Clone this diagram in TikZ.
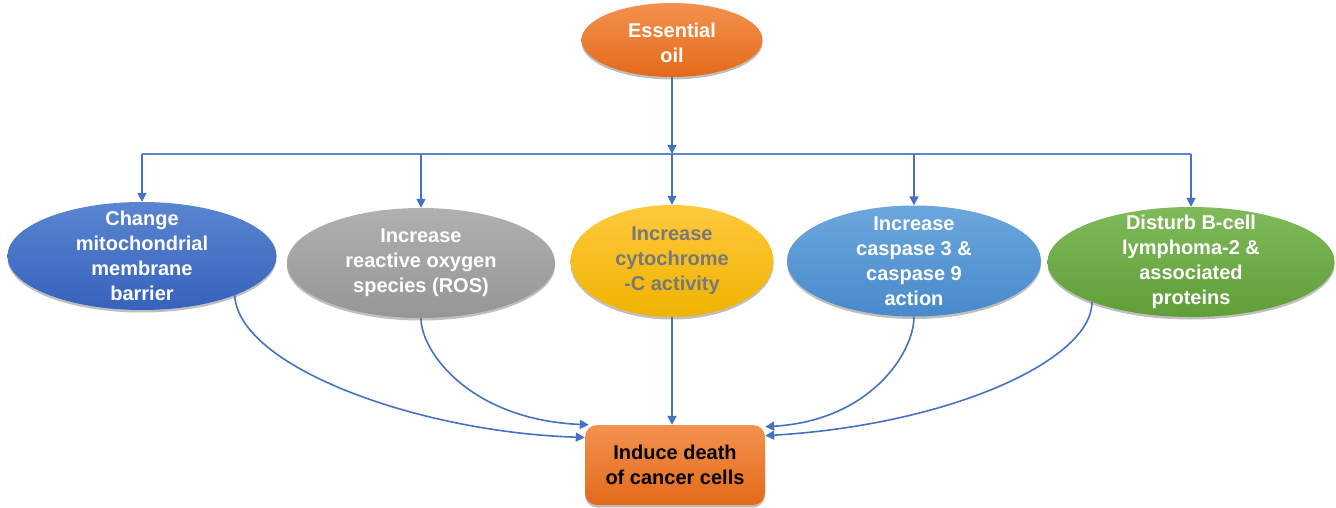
\documentclass[tikz,border=0pt]{standalone}
\usepackage{fontspec}
\setmainfont{Liberation Sans}
\usetikzlibrary{shapes.geometric,arrows.meta,shadows}

% fills: light top / darker bottom
\definecolor{oilTop}{HTML}{F3914F}
\definecolor{oilBot}{HTML}{E46A19}
\definecolor{blueTop}{HTML}{5A85D0}
\definecolor{blueBot}{HTML}{3762BD}
\definecolor{grayTop}{HTML}{B0B0B0}
\definecolor{grayBot}{HTML}{969696}
\definecolor{goldTop}{HTML}{FFC93D}
\definecolor{goldBot}{HTML}{EFB300}
\definecolor{skyTop}{HTML}{6BA7DD}
\definecolor{skyBot}{HTML}{488ACB}
\definecolor{leafTop}{HTML}{80BA5B}
\definecolor{leafBot}{HTML}{5F9E38}
\definecolor{linkblue}{HTML}{4472C4}
\definecolor{goldtext}{HTML}{787878}

\begin{document}
\begin{tikzpicture}[x=1pt,y=-1pt,
  bubble/.style={ellipse, inner sep=0pt, draw=none,
    drop shadow={shadow xshift=0pt, shadow yshift=-2.5pt, opacity=0.25, fill=black}},
  label text/.style={align=center, inner sep=0pt, text=white,
    font=\fontsize{20}{25}\selectfont\bfseries},
  link/.style={draw=linkblue, line width=1.6pt,
    -{Triangle[width=9pt,length=9pt]}},
  busline/.style={draw=linkblue!85!white, line width=1.6pt}
]
\useasboundingbox (0,0) rectangle (1336,508);

% source
\node[bubble, top color=oilTop, bottom color=oilBot,
      minimum width=181pt, minimum height=74pt] (oil) at (672,40) {};
\node[label text] (oiltxt) at (672,43) {Essential\\oil};

% five mechanisms
\node[bubble, top color=blueTop, bottom color=blueBot,
      minimum width=269pt, minimum height=108pt] (e1) at (142,256) {};
\node[label text] (t1) at (e1) {Change\\mitochondrial\\membrane\\barrier};

\node[bubble, top color=grayTop, bottom color=grayBot,
      minimum width=268pt, minimum height=110pt] (e2) at (421,263) {};
\node[label text] (t2) at (e2) {Increase\\reactive oxygen\\species (ROS)};

\node[bubble, top color=goldTop, bottom color=goldBot,
      minimum width=203pt, minimum height=112pt] (e3) at (672,261) {};
\node[label text, text=goldtext] (t3) at (e3) {Increase\\cytochrome\\-C activity};

\node[bubble, top color=skyTop, bottom color=skyBot,
      minimum width=254pt, minimum height=111pt] (e4) at (914,261) {};
\node[label text] (t4) at (e4) {Increase\\caspase 3 \&\\caspase 9\\action};

\node[bubble, top color=leafTop, bottom color=leafBot,
      minimum width=287pt, minimum height=110pt] (e5) at (1191,262) {};
\node[label text] (t5) at (e5) {Disturb B-cell\\lymphoma-2 \&\\associated\\proteins};

% outcome
\node[rounded corners=12pt, top color=oilTop, bottom color=oilBot,
      minimum width=180pt, minimum height=80pt, inner sep=0pt,
      drop shadow={shadow xshift=0pt, shadow yshift=-2.5pt, opacity=0.25, fill=black},
      label text, text=black] (death) at (675,465) {Induce death\\of cancer cells};

% distribution bus
\coordinate (bus) at (672,154);
\draw[link] (oil.south) -- (bus);
\draw[busline] (e1.north |- bus) -- (e5.north |- bus);
\foreach \n in {e1,e2,e3,e4,e5}
  \draw[link] (\n.north |- bus) -- (\n.north);

% converging links
\draw[link] (e1.-23) .. controls +(4,72) and +(-165,-5) .. (death.163);
\draw[link] (e2.south) .. controls +(0,34) and +(-118,-5) .. (death.155);
\draw[link] (e3.south) -- (e3.south |- death.north);
\draw[link] (e4.south) .. controls +(0,36) and +(105,-6) .. (death.23);
\draw[link] (e5.-158) .. controls +(0,58) and +(185,-11) .. (death.18);
\end{tikzpicture}
\end{document}
